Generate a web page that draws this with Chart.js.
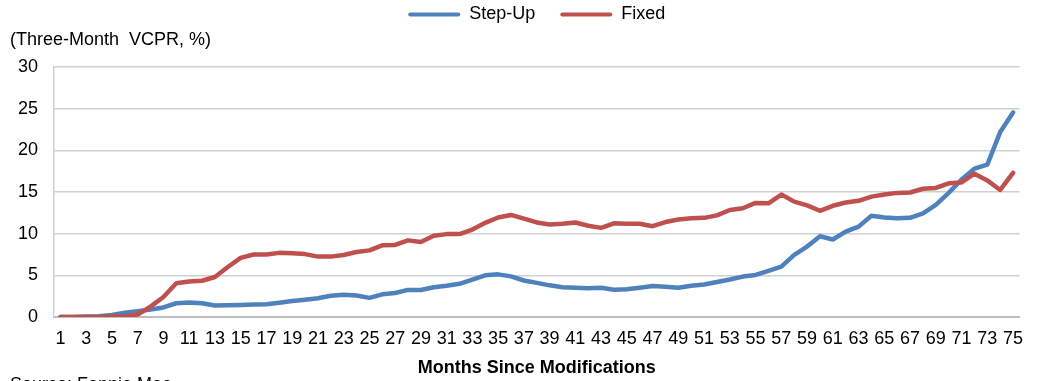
<!DOCTYPE html>
<html>
<head>
<meta charset="utf-8">
<script src="https://cdn.jsdelivr.net/npm/chart.js@4/dist/chart.umd.min.js"></script>
<style>
  html, body { margin: 0; padding: 0; background: #fff; }
  #wrap { width: 1038px; height: 381px; position: relative; }
</style>
</head>
<body>
<div id="wrap"><canvas id="c" width="1038" height="381"></canvas></div>
<script>
// Months since modification (1..75)
const months = Array.from({length: 75}, (_, i) => String(i + 1));

// Three-month VCPR (%) for step-up modifications
const stepUp = [
  0, 0, 0.05, 0.1, 0.25, 0.5, 0.7, 0.9, 1.15, 1.65,
  1.75, 1.65, 1.38, 1.4, 1.45, 1.5, 1.52, 1.72, 1.92, 2.08,
  2.25, 2.55, 2.68, 2.58, 2.3, 2.72, 2.88, 3.25, 3.25, 3.58,
  3.75, 3.98, 4.5, 5.0, 5.12, 4.88, 4.38, 4.1, 3.8, 3.58,
  3.5, 3.45, 3.5, 3.28, 3.32, 3.52, 3.72, 3.62, 3.52, 3.75,
  3.9, 4.2, 4.5, 4.85, 5.05, 5.55, 6.05, 7.45, 8.45, 9.7,
  9.3, 10.25, 10.85, 12.15, 11.95, 11.85, 11.9, 12.45, 13.45, 14.9,
  16.5, 17.8, 18.3, 22.2, 24.55
];

// Three-month VCPR (%) for fixed-rate modifications
const fixed = [
  0, 0, 0, 0, 0.05, 0.1, 0.3, 1.25, 2.4, 4.05,
  4.25, 4.35, 4.8, 6.0, 7.1, 7.5, 7.5, 7.7, 7.65, 7.55,
  7.25, 7.25, 7.45, 7.8, 8.0, 8.6, 8.65, 9.2, 9.0, 9.75,
  9.95, 9.95, 10.5, 11.3, 11.95, 12.25, 11.8, 11.35, 11.1, 11.2,
  11.35, 10.95, 10.7, 11.25, 11.2, 11.2, 10.9, 11.4, 11.7, 11.85,
  11.9, 12.2, 12.85, 13.05, 13.7, 13.65, 14.7, 13.85, 13.4, 12.75,
  13.35, 13.75, 13.95, 14.45, 14.7, 14.9, 14.95, 15.4, 15.5, 16.05,
  16.15, 17.2, 16.4, 15.25, 17.3
];

// Y-axis range and step
const yMin = 0, yMax = 30, yStep = 5;

const BLUE = '#4f81bd';
const RED = '#c0504d';

Chart.defaults.font.family = "'Liberation Sans', Arial, sans-serif";
Chart.defaults.font.size = 18;
Chart.defaults.color = '#000';

const sourceNote = {
  id: 'sourceNote',
  afterDraw(chart) {
    const ctx = chart.ctx;
    ctx.save();
    ctx.font = "18px 'Liberation Sans', Arial, sans-serif";
    ctx.fillStyle = '#000';
    ctx.textAlign = 'left';
    ctx.textBaseline = 'alphabetic';
    ctx.fillText('Source: Fannie Mae', 10, 389.5);
    ctx.restore();
  }
};

new Chart(document.getElementById('c'), {
  type: 'line',
  data: {
    labels: months,
    datasets: [
      {
        label: 'Step-Up',
        data: stepUp,
        borderColor: BLUE,
        backgroundColor: BLUE,
        borderWidth: 4.5,
        pointRadius: 0,
        tension: 0,
        borderJoinStyle: 'round',
        borderCapStyle: 'round',
        order: 1
      },
      {
        label: 'Fixed',
        data: fixed,
        borderColor: RED,
        backgroundColor: RED,
        borderWidth: 4.5,
        pointRadius: 0,
        tension: 0,
        borderJoinStyle: 'round',
        borderCapStyle: 'round',
        order: 0
      }
    ]
  },
  options: {
    responsive: false,
    animation: false,
    devicePixelRatio: 1,
    layout: { padding: { top: -19.5, left: 10, right: 18.5, bottom: 0 } },
    plugins: {
      tooltip: { enabled: false },
      legend: {
        position: 'top',
        fullSize: false,
        weight: 1000,
        labels: {
          boxWidth: 52,
          boxHeight: 4,
          padding: 25,
          useBorderRadius: true,
          borderRadius: 2,
          font: { size: 18 },
          color: '#000',
          sort: (a, b) => a.datasetIndex - b.datasetIndex,
          generateLabels(chart) {
            const items = Chart.defaults.plugins.legend.labels.generateLabels(chart);
            items.forEach(it => { it.fillStyle = it.strokeStyle; it.lineWidth = 0; });
            return items;
          }
        }
      },
      title: {
        display: true,
        text: '(Three-Month  VCPR, %)',
        align: 'start',
        position: 'top',
        weight: 500,
        font: { size: 18, weight: 'normal', lineHeight: 1.2 },
        color: '#000',
        padding: { top: -4, bottom: 16 }
      }
    },
    scales: {
      x: {
        type: 'category',
        offset: true,
        grid: { display: false, drawTicks: false },
        border: { display: true, color: '#bfbfbf', width: 2 },
        ticks: {
          autoSkip: false,
          maxRotation: 0,
          minRotation: 0,
          padding: 11,
          color: '#000',
          font: { size: 18 },
          callback(value, index) { return index % 2 === 0 ? months[index] : ''; }
        },
        title: {
          display: true,
          text: 'Months Since Modifications',
          color: '#000',
          font: { size: 18, weight: 'bold', lineHeight: 1.2 },
          padding: { top: 0, bottom: 2 }
        },
        afterFit(scale) { scale.height = 64; }
      },
      y: {
        min: yMin,
        max: yMax,
        ticks: { stepSize: yStep, padding: 16, color: '#000', font: { size: 18 } },
        grid: { color: '#d0d0d0', lineWidth: 1.5, drawTicks: false },
        border: { display: true, color: '#d0d0d0', width: 1.5 },
        afterFit(scale) { scale.width = 44; }
      }
    }
  },
  plugins: [sourceNote]
});
</script>
</body>
</html>
